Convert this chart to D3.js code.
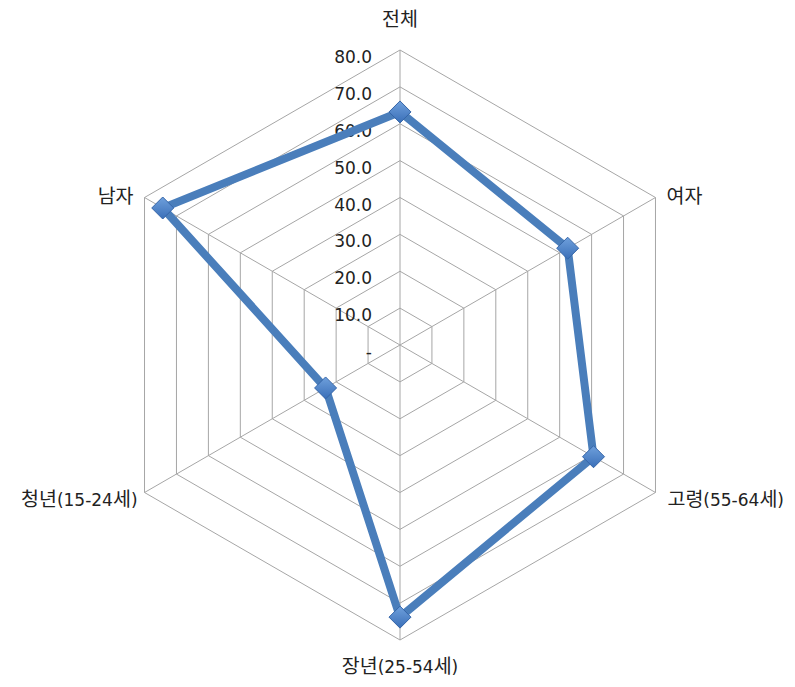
<!DOCTYPE html>
<html>
<head>
<meta charset="utf-8">
<script src="https://cdn.jsdelivr.net/npm/d3@7"></script>
<style>
  body { margin: 0; background: #fff; }
  text { font-family: "DejaVu Sans", "Noto Sans CJK KR", sans-serif; fill: #222; }
  .ko { font-family: "Noto Sans CJK KR", sans-serif; }
</style>
</head>
<body>
<svg id="chart" width="795" height="687"></svg>
<script>
const categories = ['전체', '여자', '고령(55-64세)', '장년(25-54세)', '청년(15-24세)', '남자'];
const values = [63.2, 52.5, 60.6, 73.8, 23.3, 74.3];
const tickValues = [0, 10, 20, 30, 40, 50, 60, 70, 80];
const tickLabels = ['-', '10.0', '20.0', '30.0', '40.0', '50.0', '60.0', '70.0', '80.0'];

const width = 795;
const height = 687;
const cx = 400;
const cy = 345;
const radius = 295;

const svg = d3.select('#chart');

const r = d3.scaleLinear().domain([0, 80]).range([0, radius]);
const angle = d3.scalePoint().domain(categories.concat('_end')).range([0, 2 * Math.PI]);

const pt = (cat, v) => {
  const a = angle(cat);
  return [cx + r(v) * Math.sin(a), cy - r(v) * Math.cos(a)];
};

const grid = svg.append('g');

// rings
grid.selectAll('.ring')
  .data(tickValues.slice(1))
  .join('polygon')
  .attr('points', v => categories.map(c => pt(c, v).join(',')).join(' '))
  .attr('fill', 'none')
  .attr('stroke', '#a6a6a6')
  .attr('stroke-width', 1);

// spokes
grid.selectAll('.spoke')
  .data(categories)
  .join('line')
  .attr('x1', cx).attr('y1', cy)
  .attr('x2', c => pt(c, 80)[0])
  .attr('y2', c => pt(c, 80)[1])
  .attr('stroke', '#a6a6a6')
  .attr('stroke-width', 1);

// tick labels
svg.append('g').selectAll('text')
  .data(tickValues)
  .join('text')
  .attr('x', cx - 28)
  .attr('y', v => cy - r(v) + 13)
  .attr('text-anchor', 'end')
  .attr('font-size', 17)
  .text((v, i) => tickLabels[i]);

// category labels: hangul runs a bit larger, like the original font
const labelPos = {
  '전체': { dx: 0, dy: -24, anchor: 'middle' },
  '여자': { dx: 11, dy: 5, anchor: 'start' },
  '고령(55-64세)': { dx: 12, dy: 13, anchor: 'start' },
  '장년(25-54세)': { dx: 0, dy: 33, anchor: 'middle' },
  '청년(15-24세)': { dx: -7, dy: 13, anchor: 'end' },
  '남자': { dx: -11, dy: 5, anchor: 'end' }
};

const splitRuns = s => s.match(/[\uAC00-\uD7A3]+|[^\uAC00-\uD7A3]+/g);

svg.append('g').selectAll('text')
  .data(categories)
  .join('text')
  .attr('x', c => pt(c, 80)[0] + labelPos[c].dx)
  .attr('y', c => pt(c, 80)[1] + labelPos[c].dy)
  .attr('text-anchor', c => labelPos[c].anchor)
  .attr('font-size', 17)
  .selectAll('tspan')
  .data(c => splitRuns(c))
  .join('tspan')
  .attr('class', s => /[\uAC00-\uD7A3]/.test(s) ? 'ko' : null)
  .attr('font-size', s => /[\uAC00-\uD7A3]/.test(s) ? 19.5 : 17)
  .text(s => s);

// series
const line = d3.line().curve(d3.curveLinearClosed);
const pts = categories.map((c, i) => pt(c, values[i]));

svg.append('path')
  .attr('d', line(pts))
  .attr('fill', 'none')
  .attr('stroke', '#4a7ebb')
  .attr('stroke-width', 8)
  .attr('stroke-linejoin', 'miter');

const defs = svg.append('defs');
const grad = defs.append('linearGradient')
  .attr('id', 'mk')
  .attr('x1', '0').attr('y1', '0').attr('x2', '0').attr('y2', '1');
grad.append('stop').attr('offset', '0%').attr('stop-color', '#6fa0dc');
grad.append('stop').attr('offset', '100%').attr('stop-color', '#3a6fb8');

svg.append('g').selectAll('path')
  .data(pts)
  .join('path')
  .attr('transform', d => `translate(${d[0]},${d[1]})`)
  .attr('d', 'M0,-11 L11,0 L0,11 L-11,0 Z')
  .attr('fill', 'url(#mk)')
  .attr('stroke', '#3565a8')
  .attr('stroke-width', 1);
</script>
</body>
</html>
